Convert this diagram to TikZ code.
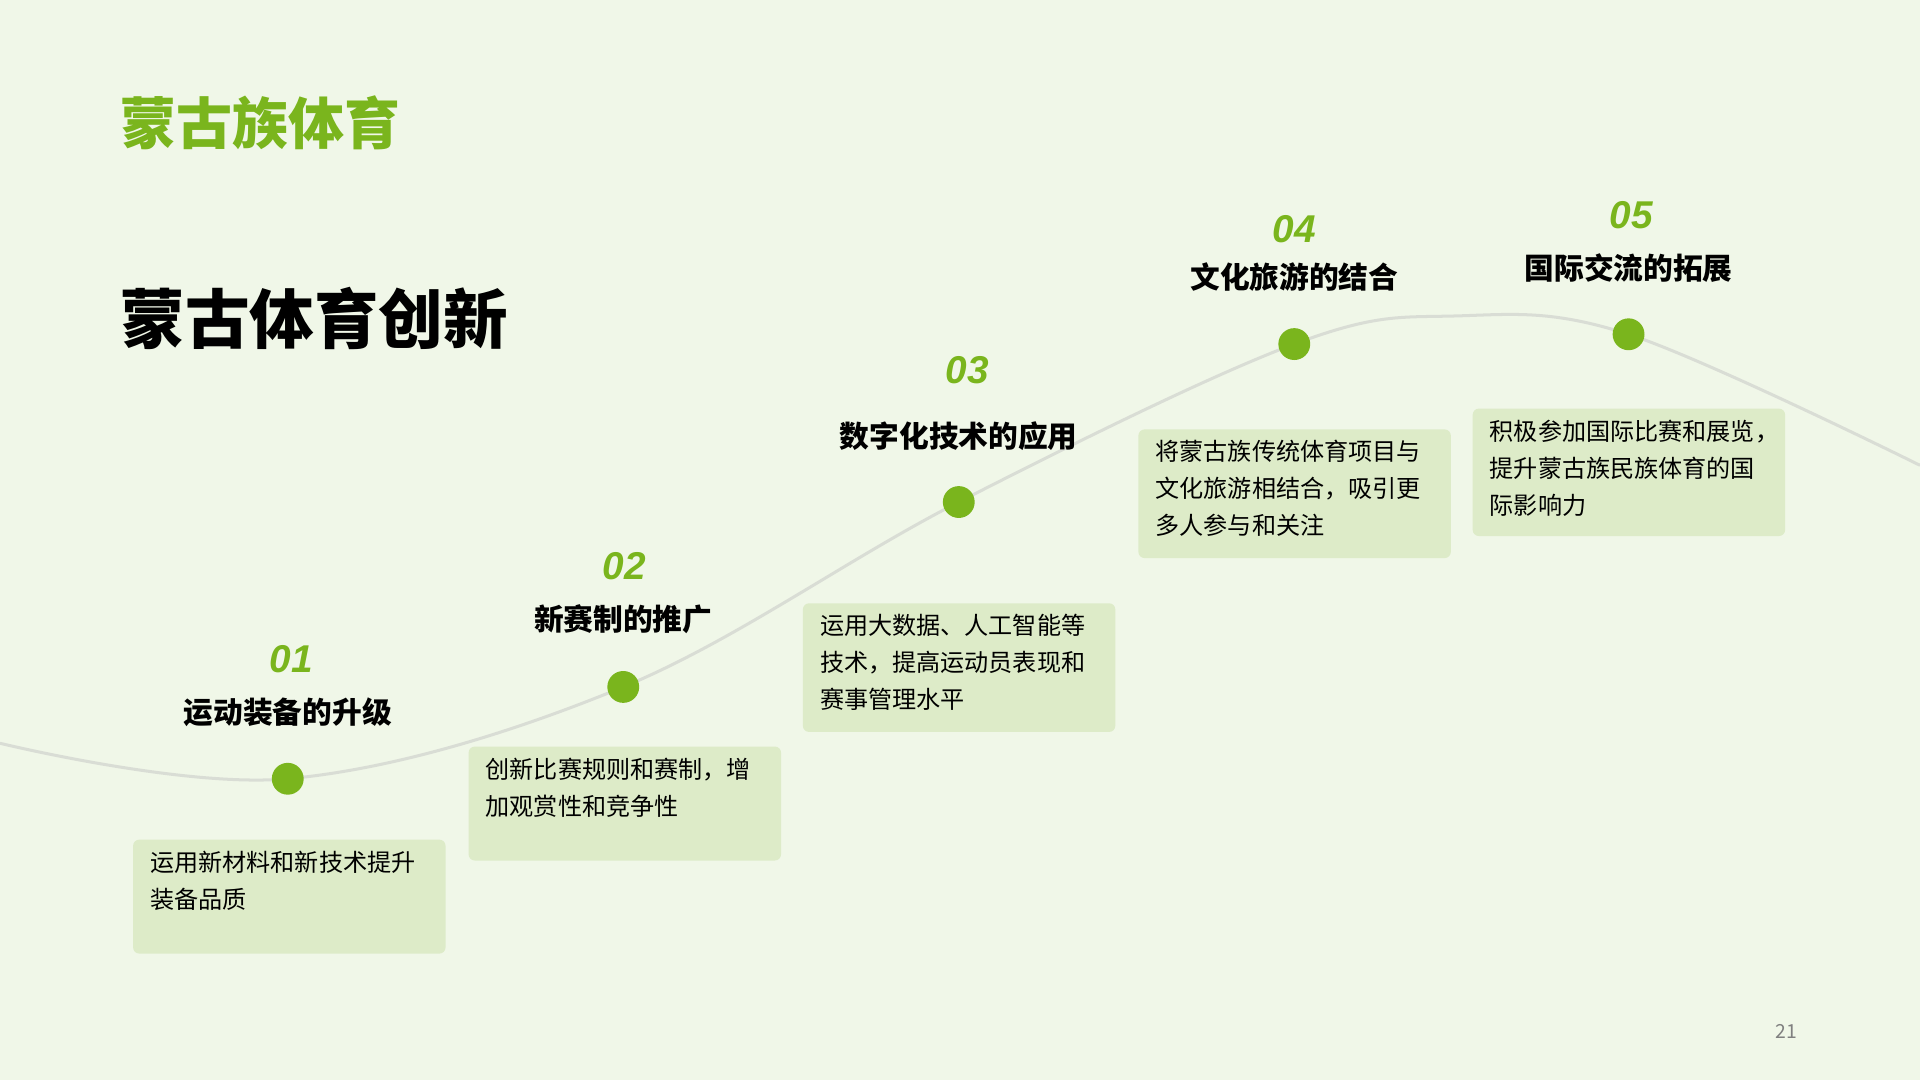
\documentclass[tikz,border=0pt]{standalone}
\usepackage{fontspec}
\setmainfont{Noto Sans CJK SC}
\newfontfamily\numfont{Liberation Sans}
\usetikzlibrary{positioning,calc}
\definecolor{bg}{HTML}{F0F7E8}
\definecolor{leaf}{HTML}{7AB51D}
\definecolor{boxfill}{HTML}{DDEBC8}
\definecolor{track}{HTML}{D9DDD5}
\tikzset{
    x=0.01cm,
    y=-0.01cm,
    dot/.style = {
        circle,
        fill=leaf,
        minimum size=0.26cm,
        inner sep=0pt
    },
    num/.style = {
        text=leaf,
        font=\numfont\bfseries\itshape\fontsize{9}{10}\selectfont
    },
    head/.style = {
        font=\bfseries\fontsize{6.9}{8}\selectfont
    },
    card/.style = {
        fill=boxfill,
        rounded corners=0.05cm,
        anchor=north west,
        inner sep=0pt,
        minimum width=2.55cm
    },
    note/.style = {
        anchor=north west,
        align=left,
        inner xsep=0.14cm,
        inner ysep=0.09cm,
        font=\fontsize{5.6}{8.6}\selectfont
    },
}
\begin{document}
\begin{tikzpicture}
    \fill[bg] (0,0) rectangle (1568,882);
    \useasboundingbox (0,0) rectangle (1568,882);

    \node[anchor=west, text=leaf, font=\bfseries\fontsize{13}{15}\selectfont] (top) at (86,100) {蒙古族体育};
    \node[anchor=west, font=\bfseries\fontsize{15}{18}\selectfont] (title) at (86,260) {蒙古体育创新};

    \draw[track, line width=0.7pt] plot[smooth, tension=0.6] coordinates {(0,607) (235,636) (509,561) (783,410) (1057,281) (1190,258) (1330,273) (1568,380)};

    \node[dot] (d1) at (235,636) {};
    \node[dot] (d2) at (509,561) {};
    \node[dot] (d3) at (783,410) {};
    \node[dot] (d4) at (1057,281) {};
    \node[dot] (d5) at (1330,273) {};

    \node[num] (n1) at (238,538) {01};
    \node[head] (h1) at (235,582) {运动装备的升级};
    \node[num] (n2) at (510,462) {02};
    \node[head] (h2) at (509,506) {新赛制的推广};
    \node[num] (n3) at (790,302) {03};
    \node[head] (h3) at (783,356) {数字化技术的应用};
    \node[num] (n4) at (1057,187) {04};
    \node[head] (h4) at (1057,226) {文化旅游的结合};
    \node[num] (n5) at (1332,176) {05};
    \node[head] (h5) at (1330,219) {国际交流的拓展};

    \node[card, minimum height=0.93cm] (c1) at (108,685) {};
    \node[card, minimum height=0.93cm] (c2) at (382,609) {};
    \node[card, minimum height=1.05cm] (c3) at (655,492) {};
    \node[card, minimum height=1.05cm] (c4) at (929,350) {};
    \node[card, minimum height=1.04cm] (c5) at (1202,333) {};
    \node[note] (t1) at (c1.north west) {运用新材料和新技术提升\\装备品质};
    \node[note] (t2) at (c2.north west) {创新比赛规则和赛制，增\\加观赏性和竞争性};
    \node[note] (t3) at (c3.north west) {运用大数据、人工智能等\\技术，提高运动员表现和\\赛事管理水平};
    \node[note] (t4) at (c4.north west) {将蒙古族传统体育项目与\\文化旅游相结合，吸引更\\多人参与和关注};
    \node[note] (t5) at (c5.north west) {积极参加国际比赛和展览，\\提升蒙古族民族体育的国\\际影响力};

    \node[text=gray, font=\fontsize{4.5}{5}\selectfont] (page) at (1459,842) {21};
\end{tikzpicture}
\end{document}
